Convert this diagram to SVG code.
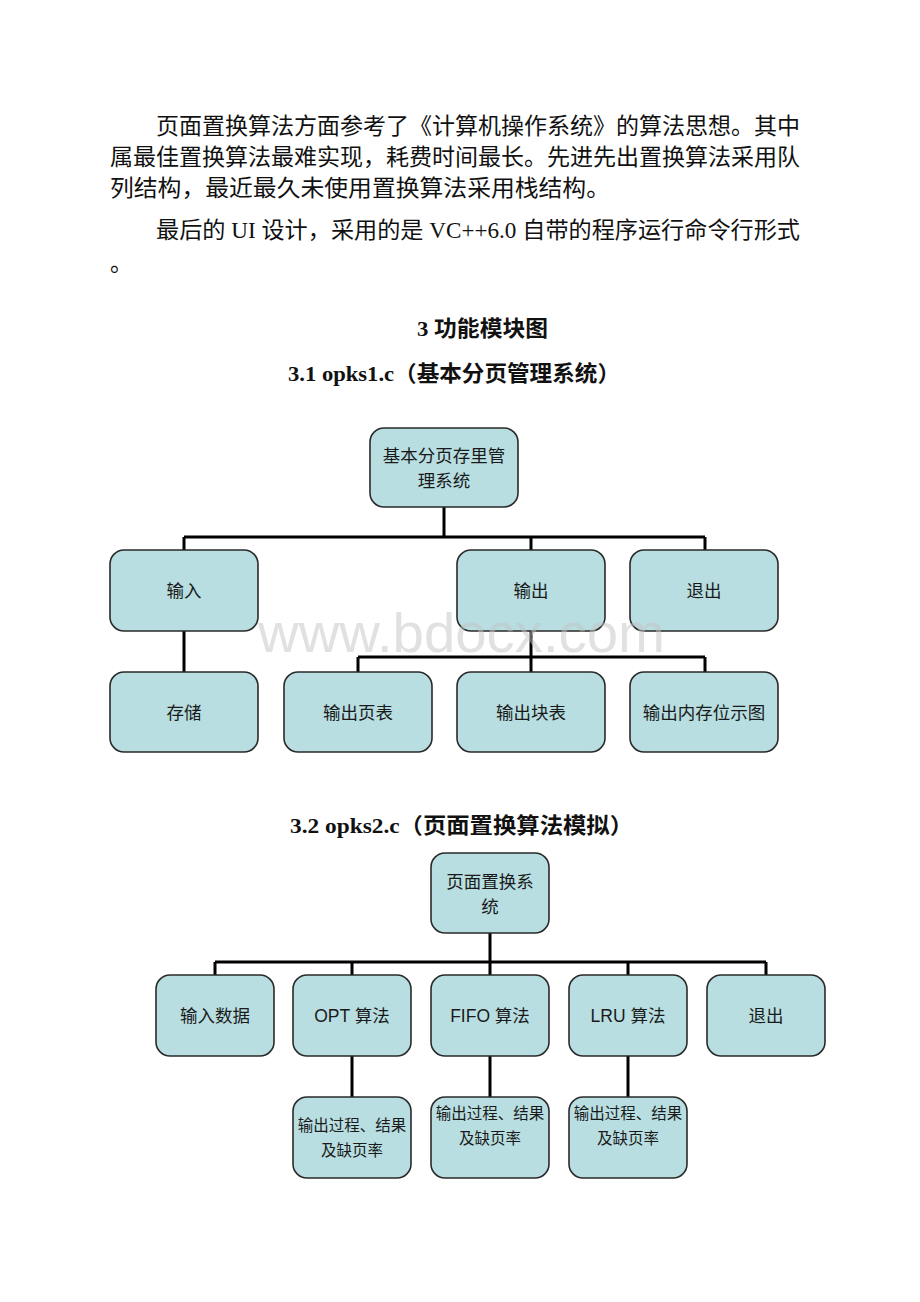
<svg xmlns="http://www.w3.org/2000/svg" width="920" height="1302" viewBox="0 0 920 1302">
<style>
.p{font-family:"Liberation Serif","Noto Sans CJK SC",serif;font-size:22.5px;fill:#111}
.h{font-family:"Liberation Serif","Noto Sans CJK SC",serif;font-size:22px;font-weight:bold;fill:#111}
.box{fill:#b8dee1;stroke:#2a2a2a;stroke-width:1.6}
.t{font-family:"Liberation Serif","Noto Sans CJK SC",sans-serif;font-size:17.5px;fill:#1a1a1a;text-anchor:middle}
.t2{font-family:"Liberation Sans","Noto Sans CJK SC",sans-serif;font-size:17.5px;fill:#1a1a1a;text-anchor:middle}
.s{font-family:"Liberation Serif","Noto Sans CJK SC",sans-serif;font-size:15.5px;fill:#1a1a1a;text-anchor:middle}
.c{fill:none;stroke:#000;stroke-width:3}
.wm{font-family:"Liberation Sans",Arial,sans-serif;font-size:56px;fill:#c4c4c4;fill-opacity:0.5}
</style>
<rect width="920" height="1302" fill="#fff"/>
<g id="paragraph">
<text class="p" x="156" y="134" textLength="644" lengthAdjust="spacingAndGlyphs">页面置换算法方面参考了《计算机操作系统》的算法思想。其中</text>
<text class="p" x="110" y="165" textLength="690" lengthAdjust="spacingAndGlyphs">属最佳置换算法最难实现，耗费时间最长。先进先出置换算法采用队</text>
<text class="p" x="110" y="196" textLength="500" lengthAdjust="spacingAndGlyphs">列结构，最近最久未使用置换算法采用栈结构。</text>
<text class="p" x="156" y="238" textLength="644" lengthAdjust="spacingAndGlyphs">最后的 UI 设计，采用的是 VC++6.0 自带的程序运行命令行形式</text>
<text class="p" x="110" y="271">。</text>
</g>
<g id="headings">
<text class="h" x="417" y="336" textLength="131" lengthAdjust="spacingAndGlyphs">3 功能模块图</text>
<text class="h" x="288" y="381" textLength="332" lengthAdjust="spacingAndGlyphs">3.1 opks1.c（基本分页管理系统）</text>
<text class="h" x="290" y="833" textLength="343" lengthAdjust="spacingAndGlyphs">3.2 opks2.c（页面置换算法模拟）</text>
</g>
<g id="connectors">
<path class="c" d="M444 507V537M184 537H705M184 537V550M531 537V550M705 537V550"/>
<path class="c" d="M184 631V672"/>
<path class="c" d="M531 631V657M358 657H705M358 657V672M531 657V672M705 657V672"/>
<path class="c" d="M490 933V962M215 962H766M215 962V975M352 962V975M490 962V975M628 962V975M766 962V975"/>
<path class="c" d="M352 1056V1097M490 1056V1097M628 1056V1097"/>
</g>
<g id="n1root"><rect class="box" x="370" y="428" width="148" height="79" rx="14"/><text class="t" x="444" y="462">基本分页存里管</text><text class="t" x="444" y="487">理系统</text></g>
<g id="n1in"><rect class="box" x="110" y="550" width="148" height="81" rx="14"/><text class="t" x="184" y="597">输入</text></g>
<g id="n1out"><rect class="box" x="457" y="550" width="148" height="81" rx="14"/><text class="t" x="531" y="597">输出</text></g>
<g id="n1exit"><rect class="box" x="630" y="550" width="148" height="81" rx="14"/><text class="t" x="704" y="597">退出</text></g>
<g id="n1store"><rect class="box" x="110" y="672" width="148" height="80" rx="14"/><text class="t" x="184" y="719">存储</text></g>
<g id="n1page"><rect class="box" x="284" y="672" width="148" height="80" rx="14"/><text class="t" x="358" y="719">输出页表</text></g>
<g id="n1block"><rect class="box" x="457" y="672" width="148" height="80" rx="14"/><text class="t" x="531" y="719">输出块表</text></g>
<g id="n1bitmap"><rect class="box" x="630" y="672" width="148" height="80" rx="14"/><text class="t" x="704" y="719">输出内存位示图</text></g>
<g id="n2root"><rect class="box" x="431" y="853" width="118" height="80" rx="14"/><text class="t" x="490" y="888">页面置换系</text><text class="t" x="490" y="913">统</text></g>
<g id="n2in"><rect class="box" x="156" y="975" width="118" height="81" rx="14"/><text class="t" x="215" y="1022">输入数据</text></g>
<g id="n2opt"><rect class="box" x="293" y="975" width="118" height="81" rx="14"/><text class="t2" x="352" y="1022">OPT 算法</text></g>
<g id="n2fifo"><rect class="box" x="431" y="975" width="118" height="81" rx="14"/><text class="t2" x="490" y="1022">FIFO 算法</text></g>
<g id="n2lru"><rect class="box" x="569" y="975" width="118" height="81" rx="14"/><text class="t2" x="628" y="1022">LRU 算法</text></g>
<g id="n2exit"><rect class="box" x="707" y="975" width="118" height="81" rx="14"/><text class="t" x="766" y="1022">退出</text></g>
<g id="n2optout"><rect class="box" x="293" y="1097" width="118" height="81" rx="14"/><text class="s" x="352" y="1131">输出过程、结果</text><text class="s" x="352" y="1156">及缺页率</text></g>
<g id="n2fifoout"><rect class="box" x="431" y="1097" width="118" height="81" rx="14"/><text class="s" x="490" y="1119">输出过程、结果</text><text class="s" x="490" y="1144">及缺页率</text></g>
<g id="n2lruout"><rect class="box" x="569" y="1097" width="118" height="81" rx="14"/><text class="s" x="628" y="1119">输出过程、结果</text><text class="s" x="628" y="1144">及缺页率</text></g>
<text class="wm" x="258" y="652" textLength="407" lengthAdjust="spacingAndGlyphs">www.bdocx.com</text>
</svg>
